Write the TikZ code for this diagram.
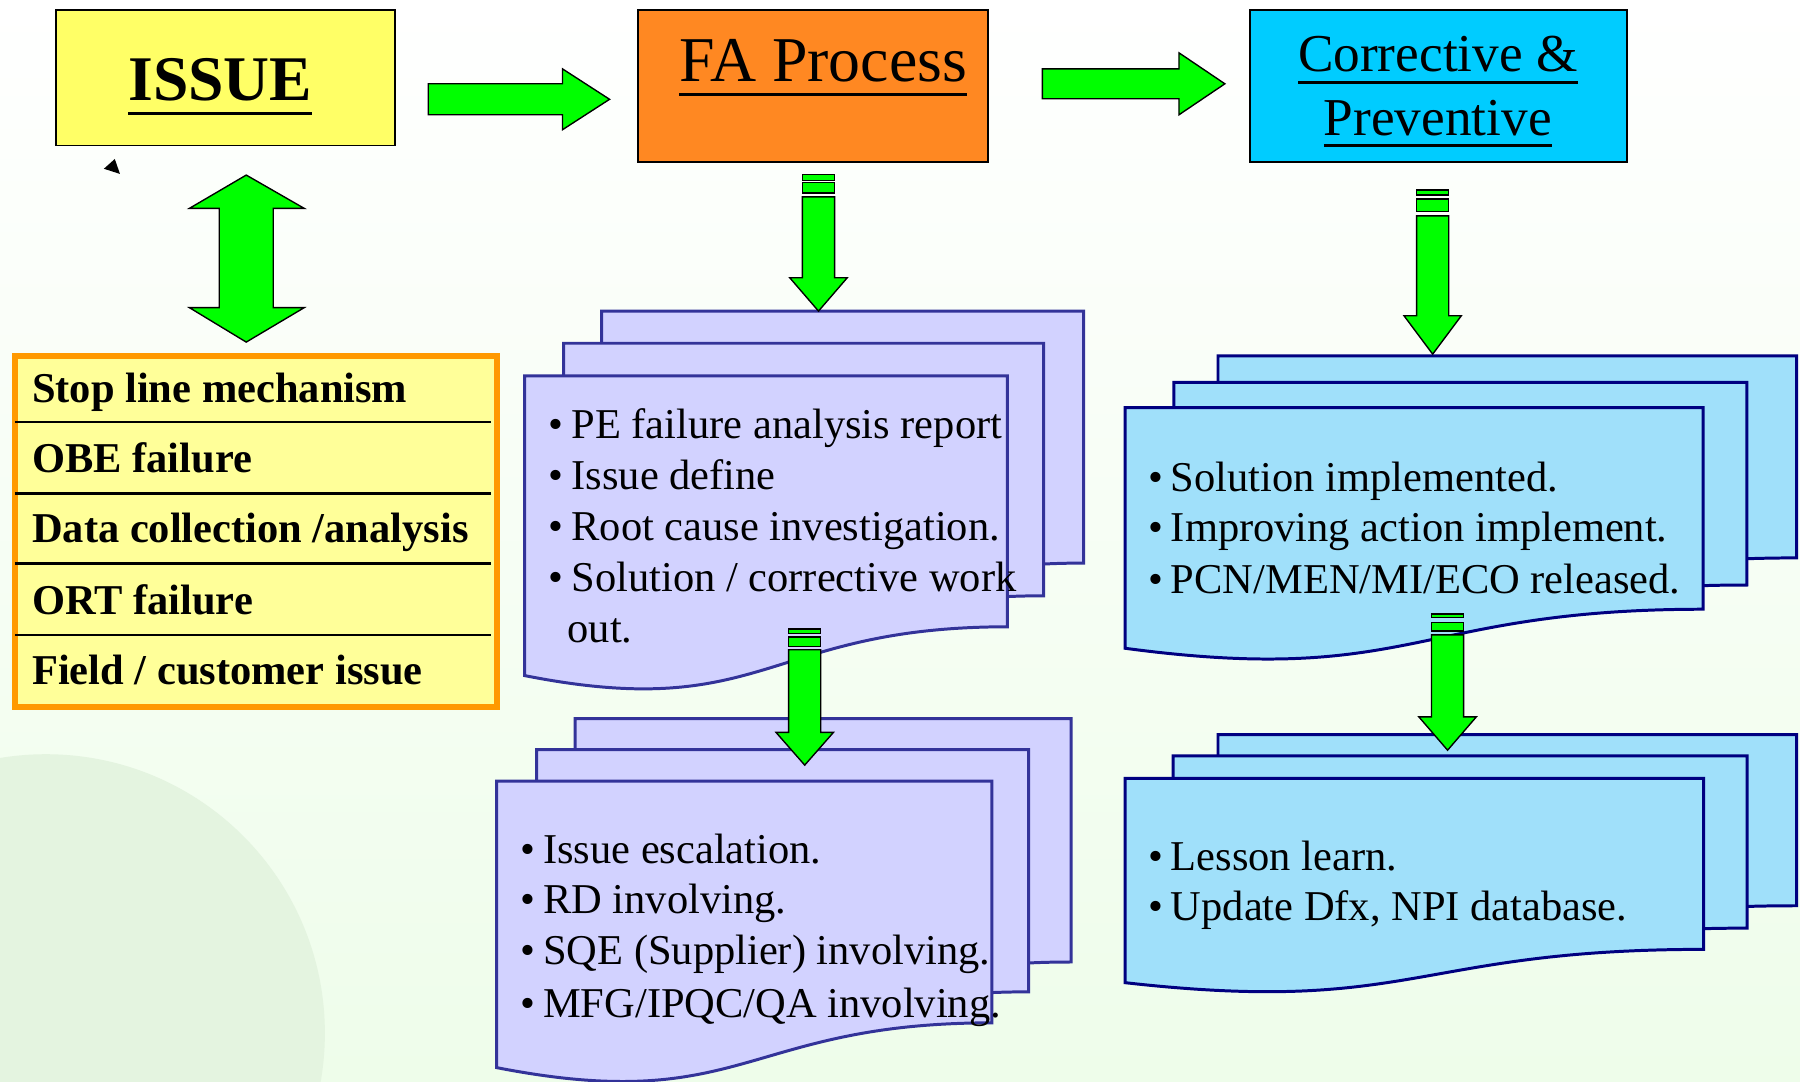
\documentclass[tikz,border=0pt]{standalone}
\usepackage{fontspec}
\setmainfont{Liberation Serif}
\usetikzlibrary{calc}
\definecolor{issueY}{HTML}{FFFF66}
\definecolor{faO}{HTML}{FF8822}
\definecolor{cpC}{HTML}{00CCFF}
\definecolor{listY}{HTML}{FFFF99}
\definecolor{listO}{HTML}{FF9900}
\definecolor{lavF}{HTML}{D2D2FF}
\definecolor{lavB}{HTML}{333399}
\definecolor{skyF}{HTML}{A0E0FA}
\definecolor{skyB}{HTML}{000080}
\definecolor{arrG}{HTML}{00FF00}
\definecolor{bgG}{HTML}{EEFDEA}
\definecolor{globeG}{HTML}{E4F4E0}
\newcommand\myul[1]{\setbox0\hbox{#1}\leavevmode\rlap{\rule[-0.23em]{\wd0}{0.055em}}\box0}
\newcommand\bul{\makebox[0.435em][l]{\hspace{-0.1em}•}}
\newcommand\docpage[6]{%
  \pgfmathsetmacro\dpA{#4/2}%
  \pgfmathsetmacro\dpB{1.385*#5-#6}%
  \draw[#1] (#2,#3) -- ++(#4,0) -- ++(0,#5) .. controls +(-\dpA,0) and +(\dpA,\dpB) .. (#2,#3+#6) -- cycle;}
\newcommand\stripedarrow[8]{%
  \draw[garrow] (#1-14,#2) rectangle (#1+14,#3);
  \draw[garrow] (#1-14,#4) rectangle (#1+14,#5);
  \draw[garrow] (#1-14,#6) -- (#1-14,#7) -- (#1-25,#7) -- (#1,#8) -- (#1+25,#7) -- (#1+14,#7) -- (#1+14,#6) -- cycle;}
\tikzset{
  garrow/.style={fill=arrG, draw=black, line width=0.6pt, line join=miter},
  topbox/.style={draw=black, line width=0.8pt, anchor=north west, inner sep=0},
  lav/.style={fill=lavF, draw=lavB, line width=1.3pt, line join=miter},
  sky/.style={fill=skyF, draw=skyB, line width=1.3pt, line join=miter},
  doctext/.style={anchor=base west, inner sep=0, font=\fontsize{18.5}{22}\selectfont},
  listtext/.style={anchor=base west, inner sep=0, font=\fontsize{18.5}{22}\selectfont\bfseries},
  title/.style={inner sep=0}
}
\begin{document}
\begin{tikzpicture}[x=0.5pt, y=-0.5pt]
\useasboundingbox (0,0) rectangle (1568,942);
\shade[top color=white, bottom color=bgG] (0,0) rectangle (1568,942);
\begin{scope}
  \clip (0,0) rectangle (1568,942);
  \fill[globeG] (40,900) circle (243);
\end{scope}

% top boxes
\node[topbox, fill=issueY, minimum width=147.5pt, minimum height=59pt] (issue) at (48,8) {};
\node[title, anchor=base, font=\fontsize{27.7}{30}\selectfont\bfseries] (issuet) at (192,87.7) {\myul{ISSUE}};
\node[topbox, fill=faO, minimum width=152.7pt, minimum height=66.2pt] (fa) at (554.6,7.8) {};
\node[title, anchor=base west, font=\fontsize{27.8}{30}\selectfont] (fat) at (591.5,71.2) {\myul{FA Process}};
\node[topbox, fill=cpC, minimum width=164.2pt, minimum height=66.2pt] (cp) at (1087.8,7.8) {};
\node[title, anchor=base, font=\fontsize{23.2}{26}\selectfont] (cpt1) at (1252.5,62.5) {\myul{Corrective \&}};
\node[title, anchor=base, font=\fontsize{23.2}{26}\selectfont] (cpt2) at (1252.5,117.6) {\myul{Preventive}};

% small black pointer
\fill (90.5,147) -- (100,138.5) -- (104.5,151.5) -- cycle;

% horizontal arrows
\draw[garrow] (373,73) -- (490,73) -- (490,60) -- (531,86.5) -- (490,113) -- (490,100) -- (373,100) -- cycle;
\draw[garrow] (908,60) -- (1027,60) -- (1027,46) -- (1067,73) -- (1027,100) -- (1027,86) -- (908,86) -- cycle;
% double arrow
\draw[garrow] (214.5,152.5) -- (265,181.5) -- (238,181.5) -- (238,268) -- (265,268) -- (214.5,298) -- (165,268) -- (191,268) -- (191,181.5) -- (165,181.5) -- cycle;

% list box
\node[draw=listO, fill=listY, line width=2.5pt, anchor=north west, inner sep=0, minimum width=210pt, minimum height=153pt] (list) at (10.5,307.5) {};
\foreach \yy in {367.5,429.7,491,553} \draw[line width=1.1pt] (13,\yy) -- (428,\yy);
\node[listtext] (l1) at (27.6,351) {Stop line mechanism};
\node[listtext] (l2) at (27.6,412) {OBE failure};
\node[listtext] (l3) at (27.6,473) {Data collection /analysis};
\node[listtext] (l4) at (27.6,535) {ORT failure};
\node[listtext] (l5) at (27.6,596) {Field / customer issue};

% FA document stack 1
\docpage{lav}{524}{271}{420}{219.5}{261}
\docpage{lav}{491}{299}{418}{220}{262}
\docpage{lav}{457}{327.5}{420.5}{218.5}{261}
\node[doctext] (f1) at (481.5,381.6) {\bul PE failure analysis report};
\node[doctext] (f2) at (481.5,426) {\bul Issue define};
\node[doctext] (f3) at (481.5,470.5) {\bul Root cause investigation.};
\node[doctext] (f4) at (481.5,515) {\bul Solution / corrective work};
\node[doctext] (f5) at (494,560) {out.};

% FA document stack 2
\docpage{lav}{501}{626}{432}{212}{251}
\docpage{lav}{467.5}{653}{428.5}{211}{250}
\docpage{lav}{432.6}{680.5}{431.4}{210.5}{249.5}
\node[doctext] (g1) at (456.7,752) {\bul Issue escalation.};
\node[doctext] (g2) at (456.7,796) {\bul RD involving.};
\node[doctext] (g3) at (456.7,840.6) {\bul SQE (Supplier) involving.};
\node[doctext] (g4) at (456.7,886) {\bul MFG/IPQC/QA involving.};

% Corrective stack 1
\docpage{sky}{1061}{310}{504}{176}{210}
\docpage{sky}{1022.6}{333}{499.2}{176.6}{210}
\docpage{sky}{980}{355}{503.6}{175.7}{209.7}
\node[doctext] (c1) at (1003.5,428.4) {\bul Solution implemented.};
\node[doctext] (c2) at (1003.5,472) {\bul Improving action implement.};
\node[doctext] (c3) at (1003.5,516.7) {\bul PCN/MEN/MI/ECO released.};

% Corrective stack 2
\docpage{sky}{1061}{640}{504}{149}{178}
\docpage{sky}{1022}{658.5}{500}{150}{178}
\docpage{sky}{980}{678}{504}{149}{178}
\node[doctext] (d1) at (1003.5,758) {\bul Lesson learn.};
\node[doctext] (d2) at (1003.5,802) {\bul Update Dfx, NPI database.};

% striped down arrows
\stripedarrow{713}{152}{157}{159}{168}{171.5}{242}{271}
\stripedarrow{1248}{165.5}{170}{173.5}{184}{188}{275}{308.5}
\stripedarrow{701}{548}{551.6}{555}{563}{566}{638}{666.5}
\stripedarrow{1261}{535}{538}{542.5}{549.5}{553}{624.5}{653.5}
\end{tikzpicture}
\end{document}
